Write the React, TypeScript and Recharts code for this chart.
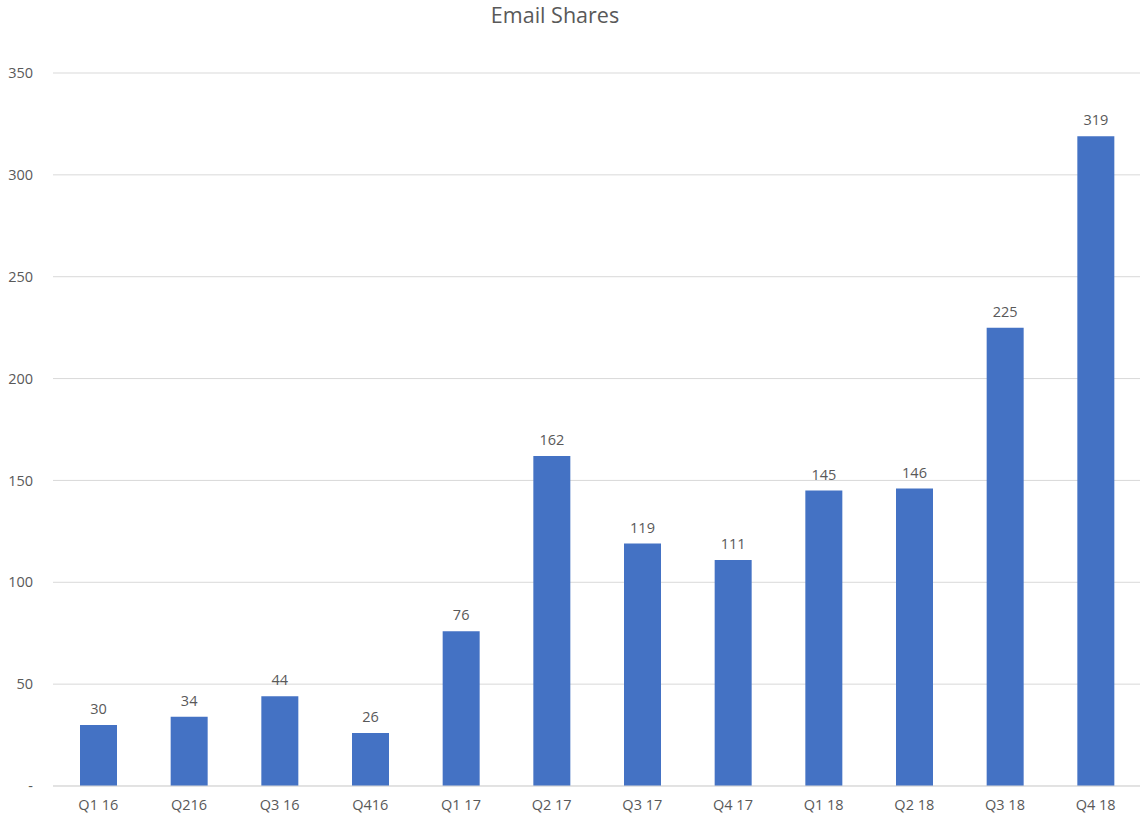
import React from 'react';
import { BarChart, Bar, XAxis, YAxis, CartesianGrid, LabelList } from 'recharts';

const quarters = ['Q1 16', 'Q216', 'Q3 16', 'Q416', 'Q1 17', 'Q2 17', 'Q3 17', 'Q4 17', 'Q1 18', 'Q2 18', 'Q3 18', 'Q4 18'];
const shares = [30, 34, 44, 26, 76, 162, 119, 111, 145, 146, 225, 319];
const yTicks = [0, 50, 100, 150, 200, 250, 300, 350];

const data = quarters.map((q, i) => ({ quarter: q, shares: shares[i] }));

const font = '"Open Sans", sans-serif';
const textColor = '#595959';

export default function App() {
  return (
    <div style={{ position: 'absolute', left: 0, top: 0, width: 1140, height: 819, background: '#fff', fontFamily: font, overflow: 'hidden' }}>
      <div
        style={{
          position: 'absolute',
          top: 0,
          left: 455,
          width: 200,
          textAlign: 'center',
          fontSize: 21.5,
          lineHeight: 'normal',
          color: textColor,
        }}
      >
        Email Shares
      </div>
      <BarChart
        width={1142}
        height={819}
        data={data}
        margin={{ top: 73, right: 1, bottom: 0, left: 0 }}
        barSize={37}
      >
        <CartesianGrid vertical={false} stroke="#d9d9d9" />
        <XAxis
          dataKey="quarter"
          height={33}
          axisLine={{ stroke: '#d9d9d9' }}
          tickLine={false}
          tickMargin={8}
          interval={0}
          tick={{ fill: textColor, fontSize: 14.5, fontFamily: font }}
        />
        <YAxis
          width={53}
          domain={[0, 350]}
          ticks={yTicks}
          axisLine={false}
          tickLine={false}
          tickMargin={14}
          tickFormatter={(v: number) => (v === 0 ? '-' : String(v))}
          tick={{ fill: textColor, fontSize: 14.5, fontFamily: font }}
        />
        <Bar dataKey="shares" fill="#4472C4" isAnimationActive={false}>
          <LabelList
            dataKey="shares"
            position="top"
            offset={11}
            fill={textColor}
            style={{ fontSize: 14.5, fontFamily: font }}
          />
        </Bar>
      </BarChart>
    </div>
  );
}
